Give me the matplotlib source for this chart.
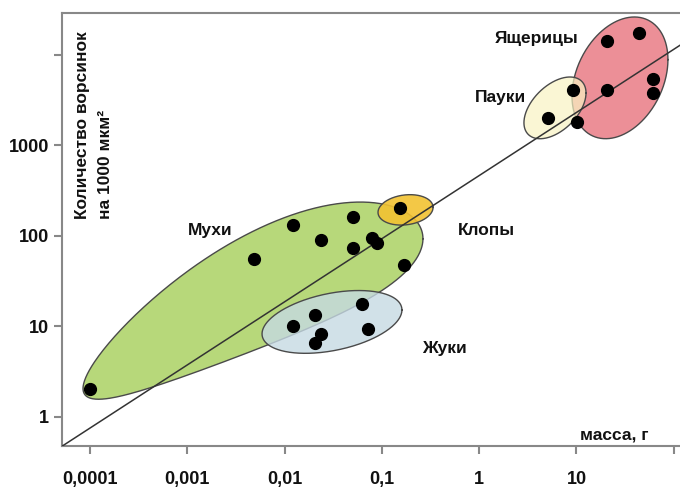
import numpy as np
import matplotlib
matplotlib.use("Agg")
import matplotlib.pyplot as plt

plt.rcParams['font.family'] = ['Liberation Sans', 'DejaVu Sans']

# ---- data (mass in g, hairs per 1000 µm²) ----
flies_x = [0.0001, 0.00485, 0.0122, 0.0237, 0.0505, 0.0505, 0.079, 0.089, 0.169]
flies_y = [2.0, 55, 131, 90, 161, 73, 94, 83, 47]
beetles_x = [0.0123, 0.0205, 0.0237, 0.0205, 0.0619, 0.0714]
beetles_y = [10.1, 13.3, 8.2, 6.6, 17.6, 9.3]
bugs_x = [0.153]
bugs_y = [201]
spiders_x = [5.13, 9.27]
spiders_y = [2030, 4070]
lizards_x = [20.4, 44.2, 20.4, 61.5, 61.5, 10.2]
lizards_y = [14300, 17700, 4150, 5390, 3800, 1820]

# regression line y = A * x^B
line_A = 464.0
line_B = 0.698

x_ticks = [0.0001, 0.001, 0.01, 0.1, 1, 10, 100]
x_ticklabels = ["0,0001", "0,001", "0,01", "0,1", "1", "10", ""]
y_ticks = [1, 10, 100, 1000, 10000]
y_ticklabels = ["1", "10", "100", "1000", ""]

groups = ["Мухи", "Жуки", "Клопы", "Пауки", "Ящерицы"]

# group envelopes in log10 space:
# (centre log x, centre log y, half width [dec x], midline slope, half height [dec y], egg, bend)
envelopes = {
    "Мухи":    (-2.325, 1.14, 1.747, 0.474, 0.66, 0.15, 0.25),
    "Жуки":    (-1.513, 1.048, 0.719, 0.184, 0.321, 0.0, 0.0),
    "Клопы":   (-0.757, 2.287, 0.283, 0.097, 0.166, 0.0, 0.0),
    "Ящерицы": (1.447, 3.747, 0.493, 0.409, 0.642, 0.0, 0.0),
    "Пауки":   (0.779, 3.415, 0.319, 0.516, 0.299, 0.0, 0.0),
}
colors = {
    "Мухи": ("#B7D87A", 1.0),
    "Жуки": ("#C6DAE3", 0.8),
    "Клопы": ("#F2C232", 0.9),
    "Ящерицы": ("#EC8F97", 1.0),
    "Пауки": ("#F8F3C2", 0.7),
}
label_pos = {
    "Ящерицы": (3.93, 15300),
    "Пауки": (1.64, 3400),
    "Клопы": (1.2, 116),
    "Мухи": (0.00171, 116),
    "Жуки": (0.435, 5.74),
}

xlog = (-4.288, 2.064)
ylog = (-0.324, 4.464)

fig = plt.figure(figsize=(6.8, 4.87), dpi=100)
ax = fig.add_axes([62 / 680, 41 / 487, 618 / 680, 433 / 487])
ax.set_xscale('log')
ax.set_yscale('log')
ax.set_xlim(10 ** xlog[0], 10 ** xlog[1])
ax.set_ylim(10 ** ylog[0], 10 ** ylog[1])


def blob(cx, cy, hx, slope, hy, egg, bend):
    t = np.linspace(0, 2 * np.pi, 400)
    u = np.cos(t)
    dx = hx * u
    dy = slope * dx + bend * (1 - u ** 2) + hy * (1 + egg * u) * np.sin(t)
    return 10 ** (cx + dx), 10 ** (cy + dy)


for z, g in enumerate(["Мухи", "Жуки", "Клопы", "Ящерицы", "Пауки"]):
    ex, ey = blob(*envelopes[g])
    c, al = colors[g]
    ax.fill(ex, ey, facecolor=c, alpha=al, edgecolor='none', zorder=1 + z)
    ax.plot(ex, ey, color='#4a4a4a', lw=1.0, zorder=1 + z)

lx = np.logspace(xlog[0], xlog[1], 50)
ax.plot(lx, line_A * lx ** line_B, color='#333333', lw=1.1, zorder=10)

for xs, ys in [(flies_x, flies_y), (beetles_x, beetles_y), (bugs_x, bugs_y),
               (spiders_x, spiders_y), (lizards_x, lizards_y)]:
    ax.plot(xs, ys, 'o', color='black', ms=8.5, mec='black', zorder=12, ls='none')

for g in groups:
    x, y = label_pos[g]
    ax.text(x, y, g, fontsize=12.5, fontweight='bold', ha='center', va='center',
            color='#111111', zorder=15)

ax.text(24.3, 0.628, "масса, г", fontsize=12.5, fontweight='bold', ha='center',
        va='center', color='#111111')

fig.text(82 / 680, 1 - 219 / 487, "Количество ворсинок", rotation=90, fontsize=12.5,
         fontweight='bold', ha='center', va='bottom', color='#111111')
fig.text(106 / 680, 1 - 219 / 487, "на 1000 мкм²", rotation=90, fontsize=12.5,
         fontweight='bold', ha='center', va='bottom', color='#111111')

ax.set_xticks(x_ticks)
ax.set_xticklabels(x_ticklabels)
ax.set_yticks(y_ticks)
ax.set_yticklabels(y_ticklabels)
ax.minorticks_off()
ax.tick_params(axis='both', direction='out', length=6, width=1.5, color='#888888',
               labelsize=13, labelcolor='#111111')
ax.tick_params(axis='x', pad=12)
ax.tick_params(axis='y', pad=3.5)
for lab in ax.get_xticklabels() + ax.get_yticklabels():
    lab.set_fontweight('bold')

for s in ['left', 'bottom', 'top']:
    ax.spines[s].set_color('#888888')
    ax.spines[s].set_linewidth(1.5)
ax.spines['right'].set_visible(False)

fig.savefig("out.png", dpi=100)
